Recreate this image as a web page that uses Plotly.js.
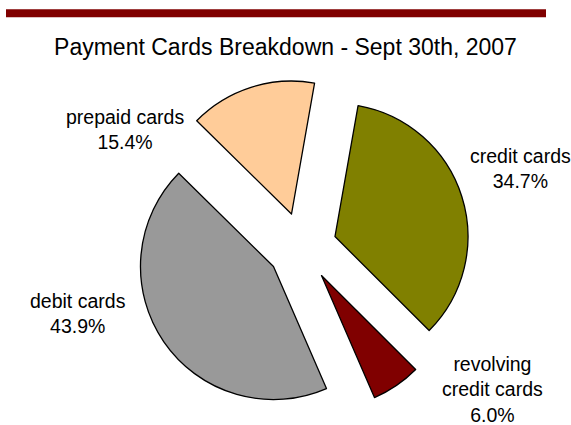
<!DOCTYPE html>
<html>
<head>
<meta charset="utf-8">
<script src="https://cdn.plot.ly/plotly-3.0.1.min.js"></script>
<style>
  html, body { margin: 0; padding: 0; background: #ffffff; }
  #chart { width: 571px; height: 425px; }
</style>
</head>
<body>
<div id="chart"></div>
<script>
// Data (clockwise from top)
var categories = ["credit cards", "revolving credit cards", "debit cards", "prepaid cards"];
var labelLines = ["credit cards", "revolving<br>credit cards", "debit cards", "prepaid cards"];
var shares = [34.7, 6.0, 43.9, 15.4];
var sliceColors = ["#808000", "#800000", "#999999", "#FFCC99"];
var chartTitle = "Payment Cards Breakdown - Sept 30th, 2007";

// label placement (paper coords), kept separate from data
var labelPos = [
  {x: 0.9107, y: 0.6031},
  {x: 0.8625, y: 0.0824},
  {x: 0.1366, y: 0.2619},
  {x: 0.2189, y: 0.6946}
];

var W = 571, H = 425;
var fontFamily = "'Liberation Sans', Arial, Helvetica, sans-serif";

var trace = {
  type: "pie",
  labels: categories,
  values: shares,
  sort: false,
  direction: "clockwise",
  rotation: 10,
  pull: categories.map(function () { return 0.26; }),
  marker: { colors: sliceColors, line: { color: "#000000", width: 1.3 } },
  textinfo: "none",
  hoverinfo: "label+percent",
  showlegend: false,
  domain: { x: [0.2354, 0.8224], y: [0.0245, 0.8132] }
};

var annotations = categories.map(function (c, i) {
  return {
    xref: "paper", yref: "paper",
    x: labelPos[i].x, y: labelPos[i].y,
    xanchor: "center", yanchor: "middle",
    text: labelLines[i] + "<br>" + shares[i].toFixed(1) + "%",
    showarrow: false,
    align: "center",
    font: { family: fontFamily, size: 19.5, color: "#000000" }
  };
});

var layout = {
  width: W, height: H,
  margin: { l: 0, r: 0, t: 0, b: 0 },
  paper_bgcolor: "#ffffff",
  plot_bgcolor: "#ffffff",
  showlegend: false,
  title: {
    text: chartTitle,
    font: { family: fontFamily, size: 23, color: "#000000" },
    x: 285.5 / W, xanchor: "center",
    xref: "paper",
    y: 1 - 47 / H, yanchor: "middle", yref: "container"
  },
  shapes: [{
    type: "rect", xref: "paper", yref: "paper",
    x0: 6 / W, x1: 546 / W, y0: 1 - 17.3 / H, y1: 1 - 9.3 / H,
    fillcolor: "#800000", line: { width: 0 }
  }],
  annotations: annotations
};

Plotly.newPlot("chart", [trace], layout, { displayModeBar: false, staticPlot: true });
</script>
</body>
</html>
